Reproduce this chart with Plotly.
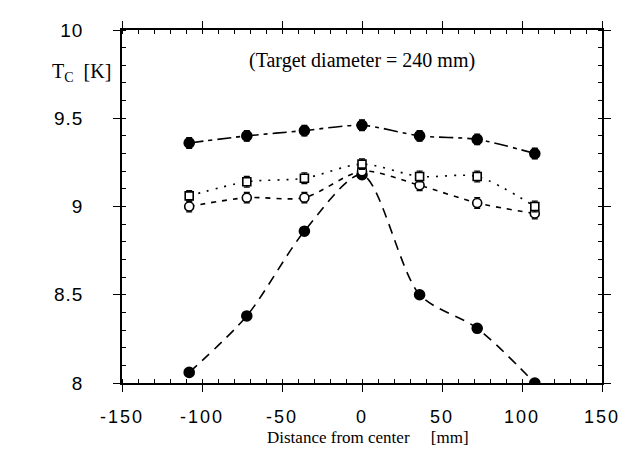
import plotly.graph_objects as go

# Data
distance = [-108, -72, -36, 0, 36, 72, 108]
tc_filled_top = [9.36, 9.40, 9.43, 9.46, 9.40, 9.38, 9.30]
tc_square = [9.06, 9.14, 9.16, 9.24, 9.17, 9.17, 9.00]
tc_open_circle = [9.00, 9.05, 9.05, 9.20, 9.12, 9.02, 8.96]
tc_filled_bottom = [8.06, 8.38, 8.86, 9.18, 8.50, 8.31, 8.00]
err_top = [0.03, 0.03, 0.03, 0.03, 0.03, 0.03, 0.03]
err_square = [0.03, 0.03, 0.03, 0.03, 0.03, 0.03, 0.03]
err_circle = [0.03, 0.03, 0.03, 0.03, 0.03, 0.03, 0.03]
err_bottom = [0.02, 0.02, 0.02, 0.02, 0.02, 0.02, 0.02]

x_tickvals = [-150, -100, -50, 0, 50, 100, 150]
x_ticktext = ["-150", "-100", "-50", "0", "50", "100", "150"]
y_tickvals = [8, 8.5, 9, 9.5, 10]
y_ticktext = ["8", "8.5", "9", "9.5", "10"]

ML, MR, MT, MB = 114, 35, 15, 76
W, H = 629, 451
plot_w = W - ML - MR
plot_h = H - MT - MB

fig = go.Figure()

def add_series(y, err, symbol, fill, dash, size):
    fig.add_trace(go.Scatter(
        x=distance, y=y, mode="lines+markers",
        line=dict(color="black", width=1.6, dash=dash, shape="spline", smoothing=0.8),
        marker=dict(symbol=symbol, size=size, color=fill,
                    line=dict(color="black", width=1.6)),
        error_y=dict(type="data", array=err, visible=True, color="black",
                     thickness=1.3, width=3),
        showlegend=False,
    ))

add_series(tc_filled_bottom, err_bottom, "circle", "black", "10px,7px", 10)
add_series(tc_open_circle, err_circle, "circle", "white", "5px,6px", 9)
add_series(tc_square, err_square, "square", "white", "2px,7px", 8)
add_series(tc_filled_top, err_top, "circle", "black", "14px,5px,4px,5px", 10)

axis_common = dict(showgrid=False, zeroline=False, showline=True, linecolor="black",
                   linewidth=1.5, ticks="outside", ticklen=7, tickwidth=1.3,
                   tickcolor="black", mirror="allticks")

fig.update_layout(
    width=W, height=H,
    margin=dict(l=ML, r=MR, t=MT, b=MB),
    paper_bgcolor="white", plot_bgcolor="white",
    xaxis=dict(range=[-150, 150], tickvals=x_tickvals, ticktext=x_ticktext,
               tickfont=dict(family="Liberation Sans", size=18, color="black"),
               ticklabelstandoff=10,
               minor=dict(dtick=10, tick0=0, ticks="inside", ticklen=4,
                          tickcolor="black", tickwidth=1),
               **axis_common),
    yaxis=dict(range=[8, 10], tickvals=y_tickvals, ticktext=y_ticktext,
               tickfont=dict(family="Liberation Sans", size=19, color="black"),
               ticklabelstandoff=26,
               minor=dict(dtick=0.1, tick0=0, ticks="inside", ticklen=4,
                          tickcolor="black", tickwidth=1),
               **axis_common),
    xaxis2=dict(range=[-150, 150], overlaying="x", tickvals=x_tickvals,
                showticklabels=False, ticks="inside", ticklen=7, tickwidth=1.3,
                tickcolor="black", mirror="ticks", showgrid=False, zeroline=False,
                showline=False),
    yaxis2=dict(range=[8, 10], overlaying="y", tickvals=y_tickvals,
                showticklabels=False, ticks="inside", ticklen=7, tickwidth=1.3,
                tickcolor="black", mirror="ticks", showgrid=False, zeroline=False,
                showline=False),
    annotations=[
        dict(text="(Target diameter = 240 mm)", x=0, y=9.83, xref="x", yref="y",
             showarrow=False, font=dict(family="Liberation Serif", size=20, color="black")),
        dict(text="T<sub>C</sub>  [K]", x=(73 - ML) / plot_w, y=9.76, xref="paper", yref="y",
             xanchor="center", showarrow=False,
             font=dict(family="Liberation Serif", size=20, color="black")),
        dict(text="Distance from center     [mm]", x=(360 - ML) / plot_w,
             y=(H - MB - 431) / plot_h, xref="paper", yref="paper",
             xanchor="center", yanchor="middle", showarrow=False,
             font=dict(family="Liberation Serif", size=17, color="black")),
    ],
)

css = ("var s=document.createElement('style');"
       "s.innerHTML='.xtick text{letter-spacing:2px}.ytick text{letter-spacing:1px}';"
       "document.head.appendChild(s);")
fig.write_html("out.html", post_script=css)
